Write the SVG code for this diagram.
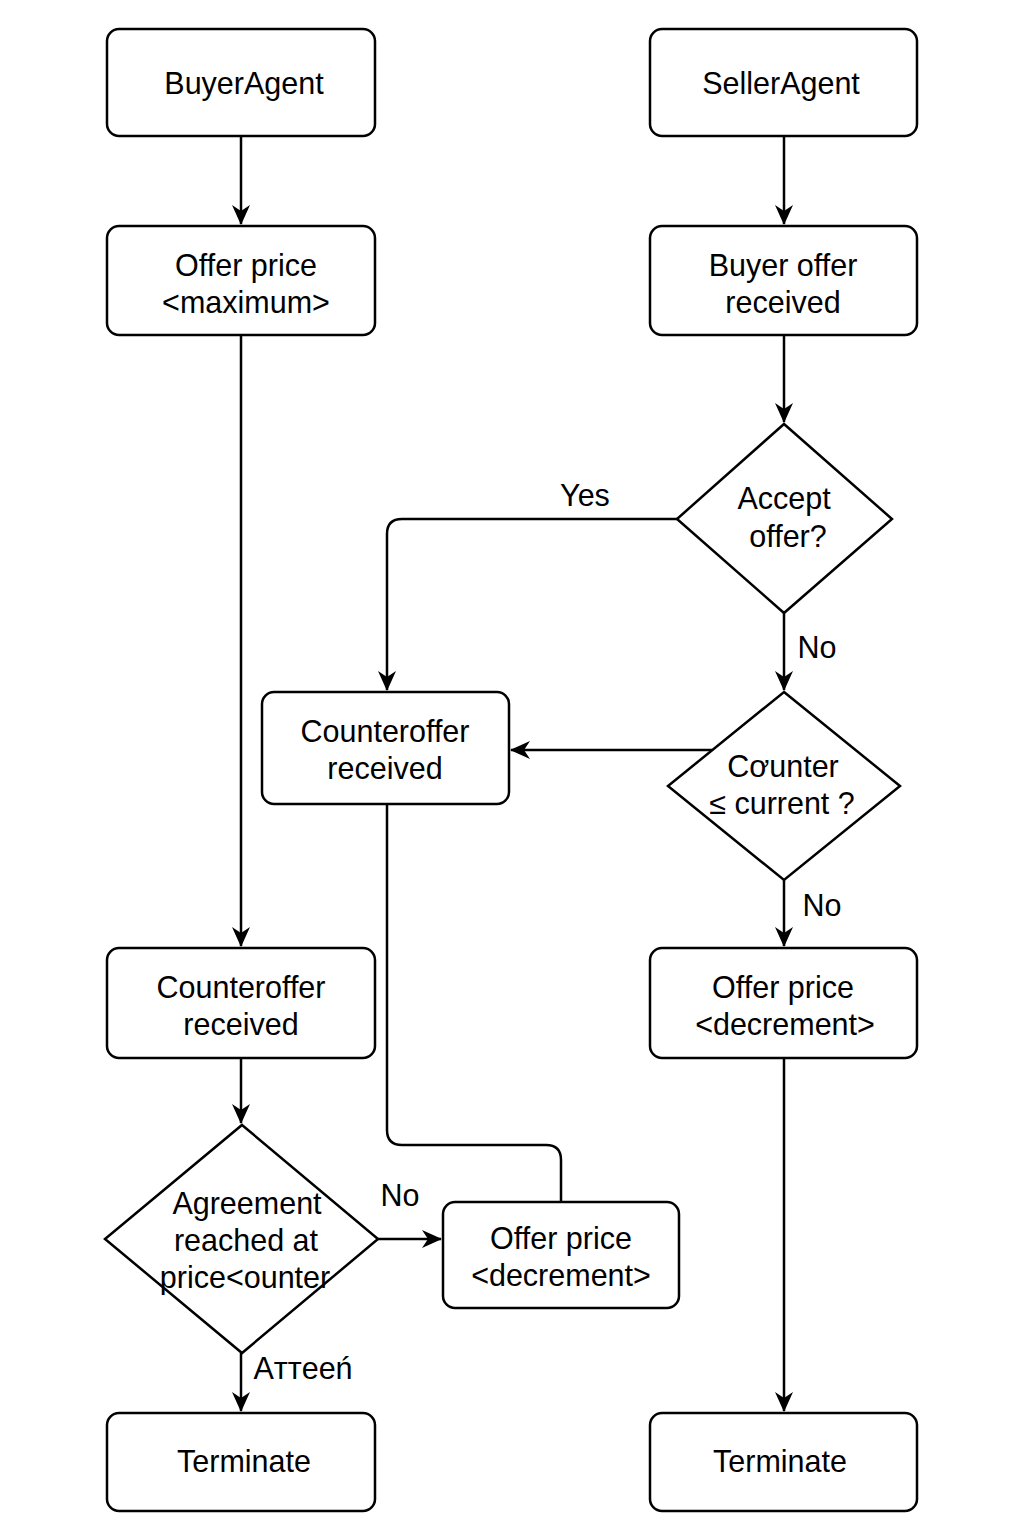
<svg xmlns="http://www.w3.org/2000/svg" width="1024" height="1536" viewBox="0 0 1024 1536">
<style>
.n{fill:#fff;stroke:#000;stroke-width:2.5}
.t{font-family:"Liberation Sans",Arial,sans-serif;font-size:30.5px;fill:#000;text-anchor:middle}
.c{fill:none;stroke:#000;stroke-width:2.5}
</style>
<defs>
<marker id="a" markerUnits="userSpaceOnUse" markerWidth="20" markerHeight="18" refX="19" refY="9" orient="auto">
<path d="M0,0 L20,9 L0,18 L6,9 Z" fill="#000"/>
</marker>
</defs>
<rect width="1024" height="1536" fill="#fff"/>
<g id="connectors">
<path class="c" d="M241 136 V224" marker-end="url(#a)"/>
<path class="c" d="M784 136 V224" marker-end="url(#a)"/>
<path class="c" d="M241 335 V946" marker-end="url(#a)"/>
<path class="c" d="M784 335 V422" marker-end="url(#a)"/>
<path class="c" d="M677 519 H402 Q387 519 387 534 V690" marker-end="url(#a)"/>
<text class="t" x="585" y="506">Yes</text>
<path class="c" d="M784 613 V690" marker-end="url(#a)"/>
<text class="t" x="817" y="658">No</text>
<path class="c" d="M712 750 H511" marker-end="url(#a)"/>
<path class="c" d="M784 880 V946" marker-end="url(#a)"/>
<text class="t" x="822" y="916">No</text>
<path class="c" d="M241 1058 V1123" marker-end="url(#a)"/>
<path class="c" d="M378 1239 H441" marker-end="url(#a)"/>
<text class="t" x="400" y="1206">No</text>
<path class="c" d="M241 1353 V1411" marker-end="url(#a)"/>
<text class="t" x="303" y="1379">Aттeeń</text>
<path class="c" d="M387 804 V1130 Q387 1145 402 1145 H546 Q561 1145 561 1160 V1202"/>
<path class="c" d="M784 1058 V1411" marker-end="url(#a)"/>
</g>
<g id="buyerAgent"><rect class="n" x="107" y="29" width="268" height="107" rx="12"/><text class="t" x="244" y="94">BuyerAgent</text></g>
<g id="sellerAgent"><rect class="n" x="650" y="29" width="267" height="107" rx="12"/><text class="t" x="781" y="94">SellerAgent</text></g>
<g id="offerMax"><rect class="n" x="107" y="226" width="268" height="109" rx="12"/><text class="t" x="246" y="276">Offer price</text><text class="t" x="246" y="313">&lt;maximum&gt;</text></g>
<g id="buyerOffer"><rect class="n" x="650" y="226" width="267" height="109" rx="12"/><text class="t" x="783" y="276">Buyer offer</text><text class="t" x="783" y="313">received</text></g>
<g id="acceptOffer"><polygon class="n" points="784,424 892,519 784,613 677,519"/><text class="t" x="784" y="509">Accept</text><text class="t" x="788" y="547">offer?</text></g>
<g id="counterMid"><rect class="n" x="262" y="692" width="247" height="112" rx="12"/><text class="t" x="385" y="742">Counteroffer</text><text class="t" x="385" y="779">received</text></g>
<g id="counterCheck"><polygon class="n" points="784,692 900,786 784,880 668,786"/><text class="t" x="783" y="777">Cơunter</text><text class="t" x="782" y="814">≤ current ?</text></g>
<g id="counterLeft"><rect class="n" x="107" y="948" width="268" height="110" rx="12"/><text class="t" x="241" y="998">Counteroffer</text><text class="t" x="241" y="1035">received</text></g>
<g id="offerDecRight"><rect class="n" x="650" y="948" width="267" height="110" rx="12"/><text class="t" x="783" y="998">Offer price</text><text class="t" x="785" y="1035">&lt;decrement&gt;</text></g>
<g id="agreement"><polygon class="n" points="242,1125 378,1239 242,1353 105,1239"/><text class="t" x="247" y="1214">Agreement</text><text class="t" x="246" y="1251">reached at</text><text class="t" x="245" y="1288">price&lt;ounter</text></g>
<g id="offerDecMid"><rect class="n" x="443" y="1202" width="236" height="106" rx="12"/><text class="t" x="561" y="1249">Offer price</text><text class="t" x="561" y="1286">&lt;decrement&gt;</text></g>
<g id="terminateLeft"><rect class="n" x="107" y="1413" width="268" height="98" rx="12"/><text class="t" x="244" y="1472">Terminate</text></g>
<g id="terminateRight"><rect class="n" x="650" y="1413" width="267" height="98" rx="12"/><text class="t" x="780" y="1472">Terminate</text></g>
</svg>
